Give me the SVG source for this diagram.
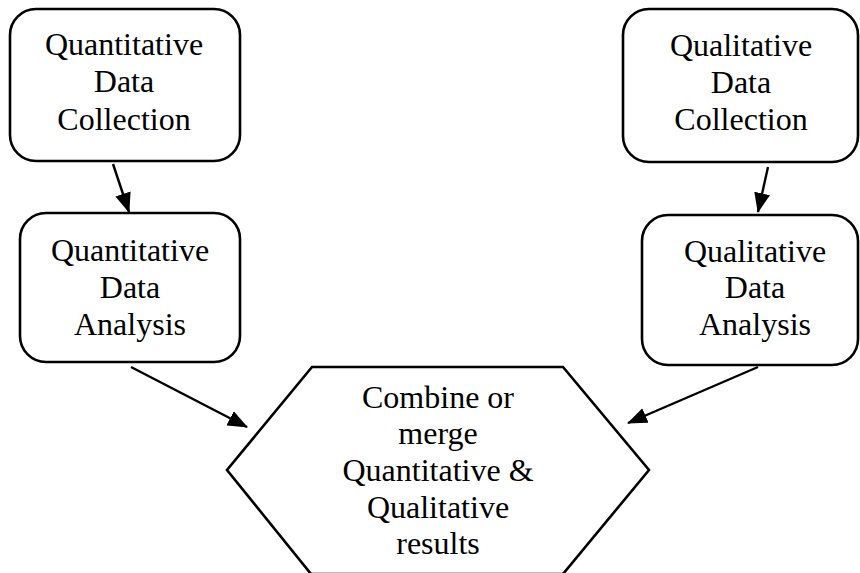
<svg xmlns="http://www.w3.org/2000/svg" width="860" height="573" viewBox="0 0 860 573">
  <style>
    .box { fill: #fff; stroke: #000; stroke-width: 2.6; }
    .lbl { font-family: "Liberation Serif", "Times New Roman", serif; font-size: 32px; fill: #000; text-anchor: middle; }
    .conn { stroke: #000; stroke-width: 2.4; fill: none; }
  </style>
  <defs>
    <!-- solid triangular arrowhead, sized in user units -->
    <marker id="head" viewBox="0 0 20 16" refX="19" refY="8" markerWidth="20" markerHeight="16" markerUnits="userSpaceOnUse" orient="auto">
      <path d="M0,0 L20,8 L0,16 Z" fill="#000"/>
    </marker>
  </defs>
  <rect width="860" height="573" fill="#fff"/>

  <g id="quant-collect">
    <rect class="box" x="10" y="9" width="230" height="152" rx="26"/>
    <text class="lbl"><tspan x="124" y="55">Quantitative</tspan><tspan x="124" y="92">Data</tspan><tspan x="124" y="130">Collection</tspan></text>
  </g>

  <g id="qual-collect">
    <rect class="box" x="623" y="9" width="235" height="153" rx="26"/>
    <text class="lbl"><tspan x="741" y="56">Qualitative</tspan><tspan x="741" y="93">Data</tspan><tspan x="741" y="130">Collection</tspan></text>
  </g>

  <g id="quant-analysis">
    <rect class="box" x="20" y="213" width="220" height="149" rx="26"/>
    <text class="lbl"><tspan x="130" y="261">Quantitative</tspan><tspan x="130" y="298">Data</tspan><tspan x="130" y="335">Analysis</tspan></text>
  </g>

  <g id="qual-analysis">
    <rect class="box" x="642" y="215" width="216" height="150" rx="26"/>
    <text class="lbl"><tspan x="755" y="262">Qualitative</tspan><tspan x="755" y="298">Data</tspan><tspan x="755" y="335">Analysis</tspan></text>
  </g>

  <g id="combine">
    <polygon class="box" points="312,367 563,367 649,470 563,574 311,574 227,470"/>
    <text class="lbl"><tspan x="438" y="408">Combine or</tspan><tspan x="438" y="444">merge</tspan><tspan x="438" y="481">Quantitative &amp;</tspan><tspan x="438" y="518">Qualitative</tspan><tspan x="438" y="554">results</tspan></text>
  </g>

  <g id="connectors">
    <line class="conn" x1="113" y1="164" x2="129" y2="212" marker-end="url(#head)"/>
    <line class="conn" x1="768" y1="167" x2="758" y2="212" marker-end="url(#head)"/>
    <line class="conn" x1="131" y1="367" x2="247" y2="427" marker-end="url(#head)"/>
    <line class="conn" x1="758" y1="367" x2="628" y2="423" marker-end="url(#head)"/>
  </g>
</svg>
